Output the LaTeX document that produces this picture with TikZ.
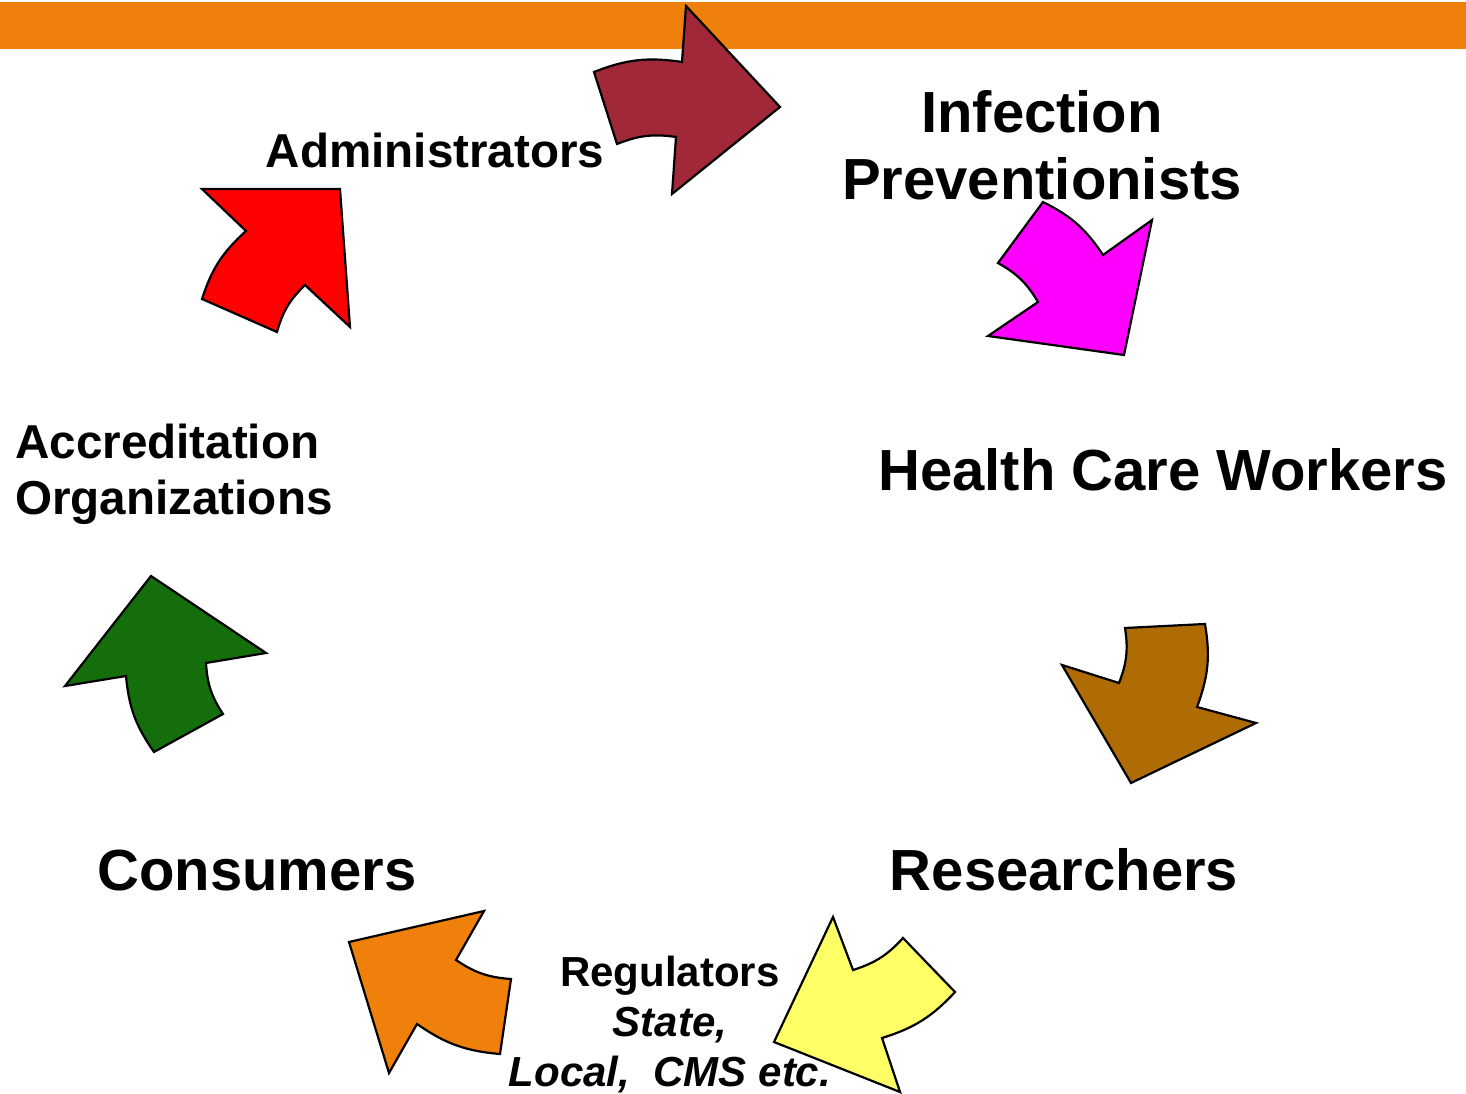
\documentclass[tikz,border=0pt]{standalone}
\usepackage{fontspec}
\setmainfont{Liberation Sans}
\usepackage{xcolor}
\usepackage{tikz}
\usetikzlibrary{positioning}

\definecolor{barorange}{HTML}{F0800C}
\definecolor{wine}{HTML}{A02838}
\definecolor{fuchsia}{RGB}{255,0,255}
\definecolor{scarlet}{RGB}{255,0,0}
\definecolor{umber}{HTML}{B06C04}
\definecolor{lemon}{HTML}{FFFF66}
\definecolor{leaf}{HTML}{146E0C}

\begin{document}
\begin{tikzpicture}[
					x = 1pt, y = 1pt,
					every node/.style = {inner sep = 0pt},
					swoosh/.style = {draw = black, line width = 2.2pt, line join = miter},
					outer/.style = {bend left = 15},
					inner/.style = {bend right = 15},
					bigtext/.style = {font = \fontsize{58}{67}\selectfont\bfseries},
					midtext/.style = {font = \fontsize{47.6}{56}\selectfont\bfseries},
					smalltext/.style = {font = \fontsize{42}{50}\selectfont\bfseries}
					]

					\useasboundingbox (0,0) rectangle (1466,1093);

					\fill[barorange] (0,1044) rectangle (1466,1091);

					\draw[swoosh,fill=wine] (594,1021) to[outer] (682,1031) -- (686,1087) -- (780,986) -- (672,899) -- (676,956) to[inner] (617,949) -- cycle;
					\draw[swoosh,fill=fuchsia] (1043,891) to[outer] (1103,838) -- (1152,873) -- (1124,738) -- (988,757) -- (1038,791) to[inner] (998,830) -- cycle;
					\draw[swoosh,fill=umber] (1125,465) -- (1205,469) to[outer] (1197,386) -- (1256,370) -- (1131,310) -- (1062,428) -- (1119,410) to[inner] cycle;
					\draw[swoosh,fill=lemon] (833,176) -- (853,123) to[inner] (903,155) -- (955,101) to[outer] (882,55) -- (900,1) -- (774,51) -- cycle;
					\draw[swoosh,fill=barorange] (349,151) -- (484,182) -- (456,133) to[inner] (511,114) -- (500,39) to[outer] (417,69) -- (389,20) -- cycle;
					\draw[swoosh,fill=leaf] (151,517) -- (266,440) -- (206,430) to[inner] (223,379) -- (154,341) to[outer] (126,417) -- (65,407) -- cycle;
					\draw[swoosh,fill=scarlet] (202,904) -- (340,904) -- (350,766) -- (305,808) to[inner] (277,761) -- (202,794) to[outer] (246,862) -- cycle;

					\node[midtext,anchor=base] (admin) at (435,925) {Administrators};
					\node[bigtext,align=center] (prevent) at (1042,948) {Infection\\Preventionists};
					\node[bigtext,anchor=base] (workers) at (1163,602) {Health Care Workers};
					\node[bigtext,anchor=base] (research) at (1064,203) {Researchers};
					\node[smalltext,align=center] (regul) at (670,68) {Regulators\\\textit{State,}\\\textit{Local,\ \ CMS etc.}};
					\node[bigtext,anchor=base] (consumer) at (257,203) {Consumers};
					\node[midtext,align=left,anchor=west] (accred) at (15,619) {Accreditation\\Organizations};

				\end{tikzpicture}
\end{document}
